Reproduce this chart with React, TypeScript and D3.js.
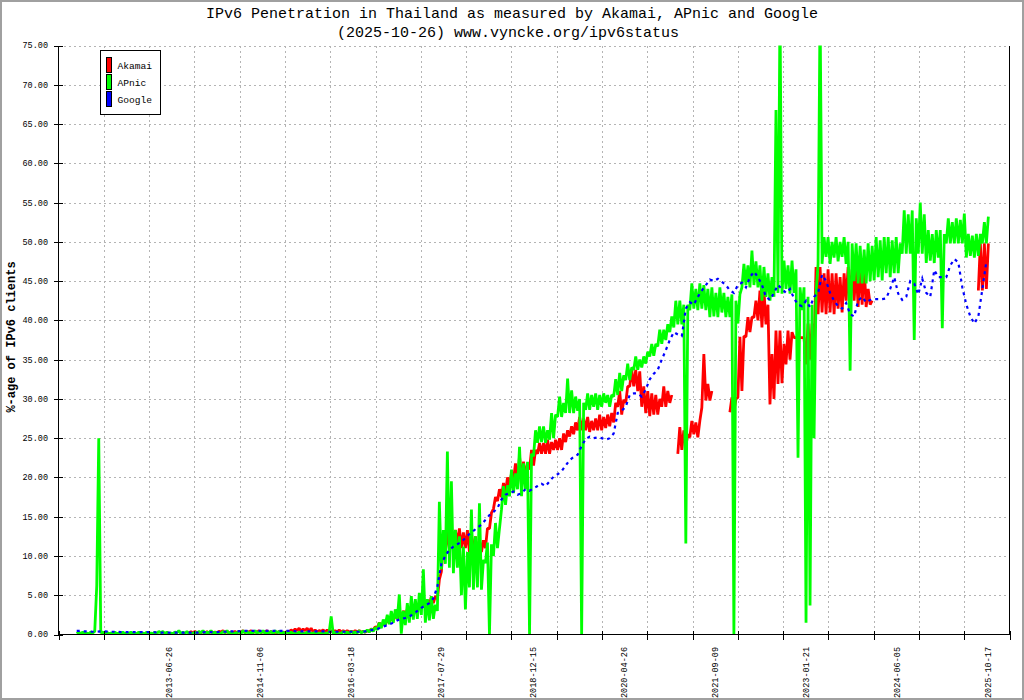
import React, { useEffect, useRef } from "react";
import * as d3 from "d3";

// sampling grid shared by all three series (one step = 22 days)
const startDate = "2012-02-04";
const stepDays = 22;
const akamaiFirstStep = 28;

// APnic: [low, high] for every step
const apnicBand: [number, number][] = [
  [0.1, 0.3], [0.1, 0.3], [0.1, 0.2], [0.1, 0.3], [0.2, 0.4], [6.2, 25], [0.2, 0.3], [0.1, 0.3], [0.1, 0.2], [0.1, 0.3],
  [0.1, 0.2], [0.1, 0.3], [0.1, 0.2], [0.1, 0.3], [0.1, 0.2], [0.1, 0.3], [0.1, 0.2], [0.1, 0.3], [0.1, 0.2], [0.1, 0.3],
  [0.1, 0.4], [0.2, 0.4], [0.1, 0.3], [0.1, 0.2], [0.1, 0.3], [0.2, 0.5], [0.1, 0.3], [0.1, 0.4], [0.1, 0.2], [0.1, 0.3],
  [0.1, 0.4], [0.2, 0.5], [0.1, 0.3], [0.2, 0.5], [0.1, 0.3], [0.1, 0.2], [0.1, 0.4], [0.2, 0.5], [0.1, 0.3], [0.1, 0.2],
  [0.2, 0.4], [0.1, 0.5], [0.2, 0.4], [0.1, 0.3], [0.2, 0.5], [0.1, 0.4], [0.2, 0.5], [0.1, 0.3], [0.2, 0.4], [0.1, 0.5],
  [0.2, 0.4], [0.1, 0.3], [0.1, 0.4], [0.1, 0.3], [0.1, 0.2], [0.1, 0.3], [0.1, 0.2], [0.1, 0.3], [0.1, 0.2], [0.1, 0.3],
  [0.1, 0.2], [0.1, 0.3], [0.1, 0.2], [0.3, 2.3], [0.1, 0.3], [0.1, 0.2], [0.1, 0.4], [0.2, 0.3], [0.1, 0.4], [0.2, 0.3],
  [0.2, 0.5], [0.2, 0.4], [0.3, 0.6], [0.3, 0.7], [0.4, 0.9], [0.6, 1.5], [0.8, 1.9], [1.2, 2.5], [1.3, 3.0], [1.5, 3.2],
  [2.0, 5.1], [0.1, 3.0], [1.2, 4.0], [1.5, 4.9], [1.9, 4.5], [2.0, 5.3], [2.5, 8.3], [1.5, 4.5], [1.8, 4.9], [2.0, 3.8],
  [3.0, 16.9], [8.3, 13.3], [9.0, 23.3], [8.5, 19.5], [7.8, 13.3], [8.5, 12.5], [5.0, 11.2], [3.2, 10.5], [6.0, 15.9], [5.7, 12.5],
  [6.0, 16.7], [5.7, 9.5], [9.1, 11.7], [0.0, 11.5], [10.0, 14.2], [11.0, 13.5], [15.9, 18.9], [16.5, 19.0], [17.6, 21.0], [18.0, 20.5],
  [18.5, 23.9], [17.6, 21.8], [18.5, 22.0], [0.0, 23.0], [22.7, 26.0], [24.4, 26.5], [24.5, 26.5], [24.4, 26.0], [24.8, 28.2], [25.0, 28.0],
  [27.7, 30.3], [27.7, 29.5], [28.2, 32.6], [28.2, 31.1], [28.2, 30.3], [28.5, 30.0], [0.0, 29.5], [28.6, 30.7], [28.6, 30.5], [29.0, 30.7],
  [28.6, 30.5], [29.0, 30.7], [29.5, 30.5], [29.0, 30.5], [30.3, 32.5], [30.5, 33.3], [31.0, 33.0], [32.4, 34.5], [32.4, 34.0], [33.7, 35.4],
  [33.7, 35.0], [34.0, 35.4], [34.5, 36.0], [35.4, 37.0], [35.5, 37.0], [36.7, 38.8], [37.0, 38.8], [37.5, 39.5], [38.5, 40.5], [39.1, 42.5],
  [39.5, 42.5], [39.5, 42.0], [11.6, 42.0], [41.3, 44.7], [41.5, 44.0], [41.3, 44.7], [41.5, 44.5], [41.3, 44.0], [40.4, 44.2], [40.5, 43.5],
  [40.4, 44.2], [41.0, 43.5], [40.4, 43.0], [40.4, 43.3], [0.0, 42.5], [39.6, 43.3], [44.2, 47.2], [44.5, 47.0], [44.2, 48.9], [44.5, 47.5],
  [44.2, 47.0], [42.5, 46.8], [43.0, 46.0], [42.5, 45.5], [43.0, 66.8], [43.5, 80], [43.4, 47.6], [44.0, 47.0], [43.4, 47.6], [43.5, 46.5],
  [22.5, 44.2], [41.3, 44.2], [1.5, 43.0], [3.7, 42.0], [25.0, 43.5], [47.2, 80], [47.2, 50.6], [48.1, 50.6], [47.2, 50.0], [48.0, 50.6],
  [47.5, 50.0], [48.1, 50.6], [47.2, 50.0], [33.6, 49.8], [45.0, 49.8], [44.7, 49.5], [44.7, 49.0], [44.7, 49.8], [45.0, 49.5], [45.1, 50.6],
  [45.5, 50.2], [45.1, 50.6], [46.0, 50.6], [45.5, 50.2], [46.0, 50.6], [46.0, 49.8], [48.5, 54.0], [48.5, 53.5], [48.5, 54.0], [37.5, 53.0],
  [48.5, 55.0], [48.5, 53.5], [47.3, 51.5], [47.6, 51.0], [47.3, 51.5], [48.0, 51.5], [39.0, 51.0], [49.8, 53.0], [49.8, 52.5], [49.8, 53.0],
  [49.8, 52.8], [49.8, 53.6], [48.0, 51.0], [48.2, 50.8], [48.0, 51.0], [48.2, 51.0], [49.8, 52.5], [49.8, 53.2],
];

// Akamai: [low, high] from step 28 on, null where there is no data
const akamaiBand: ([number, number] | null)[] = [
  [0.2, 0.35], [0.2, 0.4],
  [0.2, 0.3], [0.2, 0.4], [0.2, 0.35], [0.2, 0.4], [0.2, 0.3], [0.2, 0.4], [0.3, 0.5], [0.2, 0.4], [0.2, 0.3], [0.2, 0.4],
  [0.2, 0.4], [0.3, 0.5], [0.2, 0.4], [0.3, 0.5], [0.2, 0.4], [0.3, 0.5], [0.2, 0.4], [0.3, 0.5], [0.2, 0.4], [0.2, 0.3],
  [0.2, 0.4], [0.2, 0.3], [0.2, 0.4], [0.3, 0.6], [0.4, 0.7], [0.5, 0.8], [0.4, 0.7], [0.5, 0.8], [0.4, 0.8], [0.3, 0.6],
  [0.3, 0.5], [0.4, 0.6], [0.3, 0.6], [0.3, 0.5], [0.3, 0.5], [0.3, 0.6], [0.3, 0.5], [0.3, 0.5], [0.3, 0.4], [0.3, 0.5],
  [0.3, 0.5], [0.3, 0.4], [0.3, 0.5], [0.4, 0.7], [0.6, 1.0], [0.8, 1.5], [1.0, 1.5], [1.2, 2.0], [1.5, 2.2], [1.8, 2.5],
  [2.0, 2.8], [2.3, 3.0], [2.5, 3.2], [2.8, 3.6], [3.0, 3.8], [3.2, 4.0], [3.4, 4.2], [3.5, 4.4], [3.8, 4.8], [4.0, 4.9],
  [4.5, 7.0], [8.0, 11.7], [10.5, 13.3], [11.0, 13.0], [12.0, 13.3], [11.5, 13.5], [11.0, 13.0], [11.0, 13.3], [10.5, 13.0], [10.0, 12.5],
  [10.0, 12.0], [10.5, 12.0], [11.0, 13.5], [13.5, 15.5], [16.0, 17.5], [17.0, 18.5], [17.5, 19.3], [18.0, 20.0], [19.0, 20.5], [19.7, 21.8],
  [19.0, 22.7], [19.5, 22.0], [20.0, 21.8], [21.0, 23.5], [21.5, 23.5], [23.0, 24.4], [23.0, 24.4], [23.0, 24.8], [23.0, 24.5], [23.5, 24.8],
  [23.5, 25.0], [23.5, 25.6], [24.5, 26.0], [25.2, 26.5], [25.5, 27.0], [26.0, 27.7], [26.0, 27.5], [26.0, 27.7], [25.8, 27.2], [26.0, 27.5],
  [26.0, 28.0], [26.0, 27.7], [26.3, 28.0], [26.5, 28.2], [27.0, 29.5], [29.0, 31.0], [28.0, 29.9], [29.5, 31.6], [31.6, 33.7], [31.6, 33.7],
  [31.0, 33.5], [29.0, 31.6], [28.2, 31.0], [27.8, 30.7], [28.0, 30.5], [28.0, 30.0], [29.0, 31.6], [29.0, 31.0], [29.5, 30.5], null,
  [23.0, 26.4], [23.5, 26.0], [24.0, 25.5], [25.1, 27.2], [25.5, 27.0], [25.1, 27.2], [28.9, 35.7], [29.8, 31.9], [29.8, 31.0], null,
  null, null, null, [28.3, 30.2], [28.5, 30.0], [30.2, 37.9], [31.0, 38.0], [37.9, 40.4], [38.5, 40.4], [40.4, 42.5],
  [40.0, 43.8], [39.1, 43.8], [39.5, 42.0], [29.3, 35.7], [30.0, 38.7], [31.9, 38.7], [32.0, 37.0], [34.4, 38.7], [35.0, 38.5], [37.8, 37.8],
  [37.8, 37.8], [37.8, 37.8], [34.4, 39.6], [35.0, 39.6], [36.0, 46.8], [40.8, 46.8], [41.0, 46.0], [40.8, 46.5], [41.0, 46.0], [40.8, 46.0],
  [41.5, 45.5], [41.0, 46.0], [42.5, 46.8], [43.0, 46.5], [42.5, 46.8], [41.7, 47.6], [42.0, 47.0], [41.7, 44.0], [42.0, 42.5], null,
  null, null, null, null, null, null, null, null, null, null,
  null, null, null, null, null, null, null, null, null, null,
  null, null, null, null, null, [43.8, 49.8], [43.8, 49.8], [44.0, 49.8],
];

// Google: one value per step
const googleValues: number[] = [
  0.45, 0.45, 0.4, 0.4, 0.35, 0.35, 0.4, 0.4, 0.35, 0.35,
  0.35, 0.3, 0.3, 0.3, 0.3, 0.3, 0.3, 0.3, 0.3, 0.3,
  0.25, 0.25, 0.25, 0.25, 0.25, 0.25, 0.25, 0.25, 0.25, 0.25,
  0.25, 0.25, 0.3, 0.3, 0.3, 0.3, 0.35, 0.35, 0.4, 0.4,
  0.4, 0.45, 0.45, 0.45, 0.45, 0.45, 0.45, 0.45, 0.45, 0.45,
  0.45, 0.45, 0.45, 0.45, 0.45, 0.4, 0.4, 0.4, 0.4, 0.4,
  0.4, 0.4, 0.4, 0.35, 0.35, 0.35, 0.35, 0.35, 0.35, 0.35,
  0.35, 0.35, 0.4, 0.5, 0.6, 0.7, 0.9, 1.1, 1.3, 1.5,
  1.8, 2.0, 2.1, 2.3, 2.6, 3.0, 3.4, 3.7, 4.0, 4.6,
  6.1, 9.0, 10.0, 10.8, 11.2, 11.5, 11.8, 12.3, 12.8, 13.2,
  13.6, 14.0, 14.6, 15.2, 15.6, 16.1, 17.2, 17.8, 18.0, 18.2,
  17.8, 18.0, 18.5, 18.3, 18.6, 18.9, 19.2, 18.9, 19.5, 20.1,
  20.4, 20.8, 21.5, 22.2, 22.6, 22.9, 24.0, 24.9, 25.2, 25.0,
  25.1, 25.0, 24.8, 25.0, 25.6, 28.2, 28.5, 29.0, 30.5, 30.7,
  30.7, 30.3, 31.2, 32.5, 33.2, 33.7, 35.0, 36.2, 37.5, 38.5,
  38.2, 38.0, 41.5, 42.3, 42.0, 43.0, 43.8, 44.5, 45.2, 45.0,
  45.3, 44.9, 44.5, 43.8, 43.5, 44.5, 44.8, 44.2, 45.5, 46.2,
  45.5, 44.5, 43.0, 42.6, 43.5, 44.5, 44.0, 43.5, 44.0, 42.8,
  42.0, 41.8, 42.5, 41.7, 43.0, 43.5, 45.8, 45.0, 43.5, 42.5,
  41.8, 41.5, 42.2, 40.8, 40.5, 42.5, 43.0, 42.3, 42.6, 42.7,
  42.7, 42.7, 42.8, 44.0, 45.5, 43.4, 42.6, 43.0, 45.0, 44.7,
  43.3, 45.3, 43.5, 43.0, 46.4, 45.5, 45.5, 45.5, 47.0, 47.8,
  47.4, 44.2, 42.0, 40.5, 39.6, 40.5, 44.0, 47.5,
];

const xTickLabels = [
  "2013-06-26", "2014-11-06", "2016-03-18", "2017-07-29", "2018-12-15",
  "2020-04-26", "2021-09-09", "2023-01-21", "2024-06-05", "2025-10-17",
];
const seriesNames = ["Akamai", "APnic", "Google"];
const seriesColors = ["#ff0000", "#00ff00", "#0000ff"];

const MONO = "'Liberation Mono', 'DejaVu Sans Mono', monospace";

type Pt = { t: Date; v: number | null };

const App: React.FC = () => {
  const ref = useRef<SVGSVGElement>(null);

  useEffect(() => {
    document.body.style.margin = "0";
    const svg = d3.select(ref.current);
    svg.selectAll("*").remove();

    const left = 58.5;
    const right = 1009.5;
    const top = 45.5;
    const bottom = 634.5;

    const x = d3
      .scaleUtc()
      .domain([new Date("2011-10-27"), new Date("2026-02-11")])
      .range([left, right]);
    const y = d3.scaleLinear().domain([0, 75]).range([bottom, top]);

    const start = new Date(startDate);

    // image frame
    svg
      .append("rect")
      .attr("x", 1)
      .attr("y", 1)
      .attr("width", 1022)
      .attr("height", 698)
      .attr("fill", "white")
      .attr("stroke", "#a0a0a0")
      .attr("stroke-width", 2);

    // x ticks: 21 equal intervals across the axis
    const [d0, d1] = x.domain().map((d) => d.getTime());
    const xTicks = d3.range(22).map((k) => new Date(d0 + ((d1 - d0) * k) / 21));
    const yTicks = y.ticks(15);

    const grid = svg.append("g").attr("shape-rendering", "crispEdges");
    grid
      .selectAll("line.v")
      .data(xTicks.slice(1, -1))
      .join("line")
      .attr("x1", (d) => Math.round(x(d)) + 0.5)
      .attr("x2", (d) => Math.round(x(d)) + 0.5)
      .attr("y1", top)
      .attr("y2", bottom)
      .attr("stroke", "#b4b4b4")
      .attr("stroke-dasharray", "2,3");
    grid
      .selectAll("line.h")
      .data(yTicks.slice(1))
      .join("line")
      .attr("x1", left)
      .attr("x2", right)
      .attr("y1", (d) => Math.round(y(d)) + 0.5)
      .attr("y2", (d) => Math.round(y(d)) + 0.5)
      .attr("stroke", "#b4b4b4")
      .attr("stroke-dasharray", "2,3");

    // series
    svg
      .append("clipPath")
      .attr("id", "plotClip")
      .append("rect")
      .attr("x", left)
      .attr("y", top)
      .attr("width", right - left)
      .attr("height", bottom - top);

    const bandPoints = (band: ([number, number] | null)[], firstStep: number): Pt[] =>
      band.flatMap((p, k) => {
        const t0 = d3.utcDay.offset(start, (firstStep + k) * stepDays);
        const t1 = d3.utcDay.offset(t0, stepDays / 2);
        return [
          { t: t0, v: p ? p[0] : null },
          { t: t1, v: p ? p[1] : null },
        ];
      });

    const googlePoints: Pt[] = googleValues.map((v, k) => ({
      t: d3.utcDay.offset(start, k * stepDays),
      v,
    }));

    const line = d3
      .line<Pt>()
      .defined((d) => d.v !== null)
      .x((d) => x(d.t))
      .y((d) => y(d.v as number));

    const plot = svg.append("g").attr("clip-path", "url(#plotClip)");
    plot
      .append("path")
      .attr("d", line(bandPoints(akamaiBand, akamaiFirstStep)))
      .attr("fill", "none")
      .attr("stroke", seriesColors[0])
      .attr("stroke-width", 2.8)
      .attr("stroke-linejoin", "bevel");
    plot
      .append("path")
      .attr("d", line(bandPoints(apnicBand, 0)))
      .attr("fill", "none")
      .attr("stroke", seriesColors[1])
      .attr("stroke-width", 2.8)
      .attr("stroke-linejoin", "bevel");
    plot
      .append("path")
      .attr("d", line(googlePoints))
      .attr("fill", "none")
      .attr("stroke", seriesColors[2])
      .attr("stroke-width", 2.2)
      .attr("stroke-dasharray", "3,4");

    // axes
    const axes = svg.append("g").attr("stroke", "black").attr("shape-rendering", "crispEdges");
    axes.append("line").attr("x1", left).attr("x2", left).attr("y1", top).attr("y2", bottom);
    axes.append("line").attr("x1", right).attr("x2", right).attr("y1", top).attr("y2", bottom);
    axes.append("line").attr("x1", left).attr("x2", right).attr("y1", bottom).attr("y2", bottom);
    axes
      .selectAll("line.yt")
      .data(yTicks)
      .join("line")
      .attr("x1", left - 5)
      .attr("x2", left + 4)
      .attr("y1", (d) => Math.round(y(d)) + 0.5)
      .attr("y2", (d) => Math.round(y(d)) + 0.5);
    axes
      .selectAll("line.xt")
      .data(xTicks)
      .join("line")
      .attr("x1", (d) => Math.round(x(d)) + 0.5)
      .attr("x2", (d) => Math.round(x(d)) + 0.5)
      .attr("y1", bottom - 4)
      .attr("y2", bottom + 5);

    svg
      .append("g")
      .selectAll("text")
      .data(yTicks)
      .join("text")
      .attr("x", 48)
      .attr("y", (d) => y(d))
      .attr("dy", "0.35em")
      .attr("text-anchor", "end")
      .attr("font-family", MONO)
      .attr("font-size", 8.5)
      .text((d) => d3.format(".2f")(d));

    svg
      .append("g")
      .selectAll("text")
      .data(xTickLabels)
      .join("text")
      .attr("transform", (d) => `translate(${x(new Date(d))},647) rotate(-90)`)
      .attr("dy", "0.35em")
      .attr("text-anchor", "end")
      .attr("font-family", MONO)
      .attr("font-size", 8.5)
      .text((d) => d);

    // titles
    svg
      .append("text")
      .attr("x", 512)
      .attr("y", 18)
      .attr("text-anchor", "middle")
      .attr("font-family", MONO)
      .attr("font-size", 15)
      .text("IPv6 Penetration in Thailand as measured by Akamai, APnic and Google");
    svg
      .append("text")
      .attr("x", 508)
      .attr("y", 37)
      .attr("text-anchor", "middle")
      .attr("font-family", MONO)
      .attr("font-size", 15)
      .text("(2025-10-26) www.vyncke.org/ipv6status");
    svg
      .append("text")
      .attr("transform", "translate(11,337) rotate(-90)")
      .attr("dy", "0.35em")
      .attr("text-anchor", "middle")
      .attr("font-family", MONO)
      .attr("font-weight", "bold")
      .attr("font-size", 12)
      .text("%-age of IPv6 clients");

    // legend
    const legend = svg.append("g");
    legend
      .append("rect")
      .attr("x", 100.5)
      .attr("y", 50.5)
      .attr("width", 60)
      .attr("height", 64)
      .attr("fill", "white")
      .attr("stroke", "black");
    const items = legend
      .selectAll("g")
      .data(seriesNames)
      .join("g")
      .attr("transform", (_, i) => `translate(0,${57.5 + i * 17})`);
    items
      .append("rect")
      .attr("x", 106.5)
      .attr("y", 0)
      .attr("width", 5)
      .attr("height", 15)
      .attr("fill", (_, i) => seriesColors[i])
      .attr("stroke", "black");
    items
      .append("text")
      .attr("x", 117.5)
      .attr("y", 11.5)
      .attr("font-family", MONO)
      .attr("font-size", 9.6)
      .text((d) => d);
  }, []);

  return <svg ref={ref} width={1024} height={700} style={{ display: "block" }} />;
};

export default App;
